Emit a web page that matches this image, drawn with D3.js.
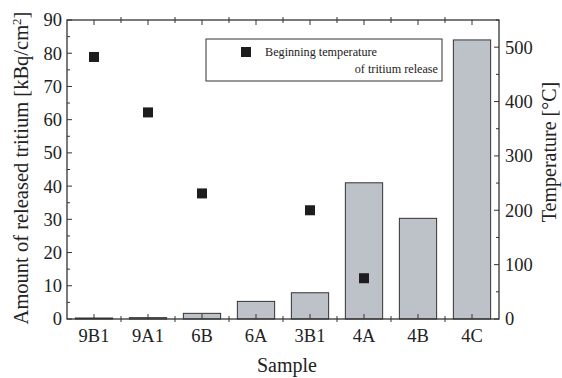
<!DOCTYPE html>
<html>
<head>
<meta charset="utf-8">
<script src="https://cdn.jsdelivr.net/npm/d3@7"></script>
<style>
  body { margin: 0; background: #fff; }
  svg, svg text { font-family: "Liberation Serif", "Times New Roman", serif; }
</style>
</head>
<body>
<svg id="chart" width="562" height="378"></svg>
<script>
// ---- data ---- //
const samples = ["9B1", "9A1", "6B", "6A", "3B1", "4A", "4B", "4C"];
// released tritium, kBq/cm2
const released = [0.3, 0.4, 1.7, 5.3, 7.9, 41, 30.3, 84];
// beginning temperature of release (only where measured)
const tempSamples = ["9B1", "9A1", "6B", "3B1", "4A"];
const tempValues = [482, 380, 231, 200, 75];
const leftTicks = [0, 10, 20, 30, 40, 50, 60, 70, 80, 90];
const rightTicks = [0, 100, 200, 300, 400, 500];

// ---- layout ---- //
const margin = { top: 20, right: 63, bottom: 59, left: 67 };
const W = 562, H = 378;
const iw = W - margin.left - margin.right;
const ih = H - margin.top - margin.bottom;

const svg = d3.select("#chart");
const g = svg.append("g").attr("transform", `translate(${margin.left},${margin.top})`);

const x = d3.scaleBand().domain(samples).range([0, iw]).paddingInner(0.31).paddingOuter(0.155);
const xOuter = d3.scaleBand().domain(samples).range([0, iw]).padding(0);
const y = d3.scaleLinear().domain([0, 90]).range([ih, 0]);
const y2 = d3.scaleLinear().domain([0, 550]).range([ih, 0]);

const axisColor = "#333";
const textColor = "#222";

// bars
g.selectAll("rect.bar")
  .data(samples)
  .join("rect")
  .attr("class", "bar")
  .attr("x", d => x(d))
  .attr("width", x.bandwidth())
  .attr("y", (d, i) => y(released[i]))
  .attr("height", (d, i) => ih - y(released[i]))
  .attr("fill", "#bdc1c8")
  .attr("stroke", "#333")
  .attr("stroke-width", 1);

// scatter squares
const sq = 10;
g.selectAll("rect.pt")
  .data(tempSamples)
  .join("rect")
  .attr("class", "pt")
  .attr("x", d => xOuter(d) + xOuter.bandwidth() / 2 - sq / 2)
  .attr("y", (d, i) => y2(tempValues[i]) - sq / 2)
  .attr("width", sq)
  .attr("height", sq)
  .attr("fill", "#1e1c1e");

// ---- axes ---- //
const tickFont = 18.5;
const centers = samples.map(d => xOuter(d) + xOuter.bandwidth() / 2);
const bounds = samples.slice(1).map(d => xOuter(d));

// frame
g.append("rect")
  .attr("x", 0).attr("y", 0).attr("width", iw).attr("height", ih)
  .attr("fill", "none").attr("stroke", axisColor).attr("stroke-width", 1.3);

function styleText(sel) {
  sel.selectAll("text")
    .attr("font-size", tickFont)
    .attr("font-family", "Liberation Serif, Times New Roman, serif")
    .attr("fill", textColor);
}

// left axis
const left = g.append("g")
  .call(d3.axisLeft(y).tickValues(leftTicks).tickSize(0).tickPadding(5));
left.select(".domain").remove();
styleText(left);
g.selectAll("line.ltick")
  .data(d3.range(0, 91, 5))
  .join("line")
  .attr("x1", 0).attr("x2", d => d % 10 === 0 ? 5 : 3)
  .attr("y1", d => y(d)).attr("y2", d => y(d))
  .attr("stroke", axisColor);

// right axis
const right = g.append("g").attr("transform", `translate(${iw},0)`)
  .call(d3.axisRight(y2).tickValues(rightTicks).tickSize(0).tickPadding(6));
right.select(".domain").remove();
styleText(right);
g.selectAll("line.rtick")
  .data(d3.range(0, 551, 50))
  .join("line")
  .attr("x1", iw).attr("x2", d => iw - (d % 100 === 0 ? 5 : 3))
  .attr("y1", d => y2(d)).attr("y2", d => y2(d))
  .attr("stroke", axisColor);

// bottom axis labels
const bottom = g.append("g").attr("transform", `translate(0,${ih})`)
  .call(d3.axisBottom(xOuter).tickSize(0).tickPadding(10));
bottom.select(".domain").remove();
styleText(bottom);

// ticks on bottom and top
[0, ih].forEach((yy, k) => {
  const dir = k === 0 ? 1 : -1;
  g.selectAll(null).data(centers).join("line")
    .attr("x1", d => d).attr("x2", d => d)
    .attr("y1", yy).attr("y2", yy + dir * 5)
    .attr("stroke", axisColor);
  g.selectAll(null).data(bounds).join("line")
    .attr("x1", d => d).attr("x2", d => d)
    .attr("y1", yy - 3).attr("y2", yy + 3)
    .attr("stroke", axisColor);
});

// axis titles
svg.append("text")
  .attr("transform", `translate(28,168) rotate(-90)`)
  .attr("text-anchor", "middle")
  .attr("font-size", 20.5).attr("fill", textColor)
  .html('Amount of released tritium [kBq/cm<tspan baseline-shift="super" font-size="13">2</tspan>]');

svg.append("text")
  .attr("transform", `translate(556,152) rotate(-90)`)
  .attr("text-anchor", "middle")
  .attr("font-size", 20).attr("fill", textColor)
  .text("Temperature [°C]");

svg.append("text")
  .attr("x", 287).attr("y", 372)
  .attr("text-anchor", "middle")
  .attr("font-size", 20).attr("fill", textColor)
  .text("Sample");

// legend
const lg = svg.append("g");
lg.append("rect")
  .attr("x", 206).attr("y", 39).attr("width", 236).attr("height", 42)
  .attr("fill", "#fff").attr("stroke", "#333").attr("stroke-width", 1);
lg.append("rect")
  .attr("x", 241).attr("y", 47).attr("width", sq).attr("height", sq)
  .attr("fill", "#1e1c1e");
lg.append("text")
  .attr("x", 265).attr("y", 56)
  .attr("font-size", 12.2).attr("fill", textColor)
  .text("Beginning temperature");
lg.append("text")
  .attr("x", 438).attr("y", 73)
  .attr("text-anchor", "end")
  .attr("font-size", 12.2).attr("fill", textColor)
  .text("of tritium release");
</script>
</body>
</html>
